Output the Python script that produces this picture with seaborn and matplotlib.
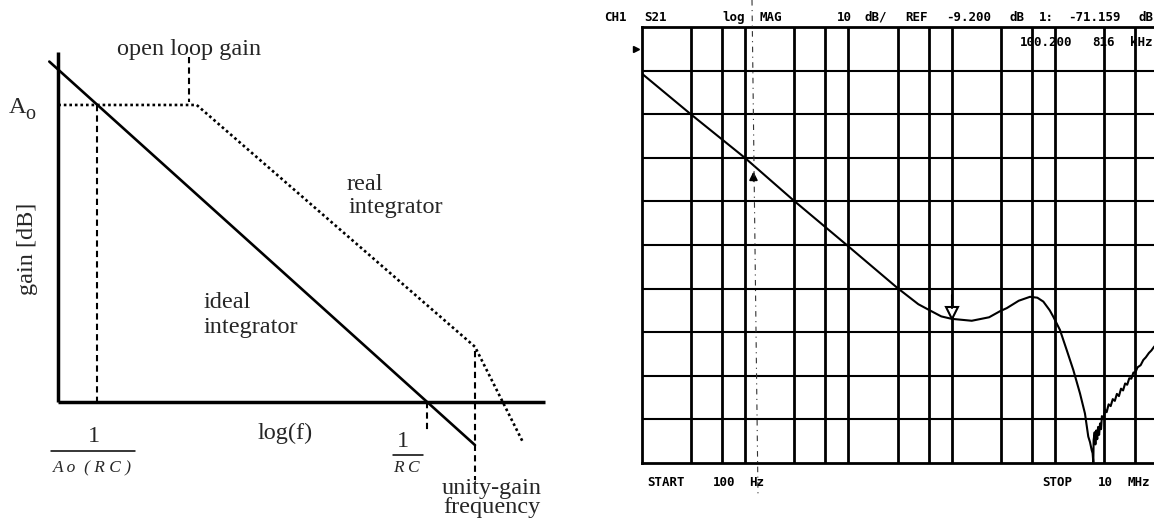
import numpy as np
import matplotlib
matplotlib.use("Agg")
import matplotlib.pyplot as plt
from matplotlib.lines import Line2D
from matplotlib.transforms import blended_transform_factory
import seaborn as sns

# ---------------- left: ideal vs. real integrator (schematic) ----------------
# x = log10(f) in decades relative to 1/RC, y = gain in dB
ideal_logf = [-4.583, 0.5865]
ideal_gain = [91.7, -11.7]
real_logf = [-4.474, -2.793, 0.5865, 1.166]
real_gain = [80.0, 80.0, 14.8, -10.8]
axis_origin_logf = -4.474
axis_end_logf = 1.437
axis_top_gain = 94.3
open_loop_gain_db = 80.0          # A_o
corner_logf = -4.0                 # 1/(A_o RC)
rc_logf = 0.0                      # 1/RC
unity_logf = 0.5865                # unity-gain frequency
leader_logf = -2.884               # leader from "open loop gain" label

# ---------------- right: measured S21, log MAG ----------------
freq_hz = [100, 300, 1000, 3000, 1.0e4, 3.0e4, 4.764e4, 6.026e4, 7.943e4,
           100200.816, 1.567e5, 2.307e5, 2.944e5, 3.420e5, 4.467e5, 5.741e5,
           6.761e5, 7.727e5, 8.913e5, 9.661e5, 1.119e6, 1.300e6, 1.507e6,
           1.750e6, 1.954e6, 2.104e6, 2.188e6, 2.270e6, 2.317e6, 2.355e6,
           2.371e6, 2.427e6, 2.466e6, 2.512e6, 2.570e6, 2.618e6, 2.679e6,
           2.735e6, 2.799e6, 2.851e6, 2.951e6, 3.055e6, 3.170e6, 3.311e6,
           3.467e6, 3.631e6, 3.802e6, 3.981e6, 4.169e6, 4.365e6, 4.571e6,
           4.786e6, 5.012e6, 5.248e6, 5.495e6, 5.754e6, 6.026e6, 6.310e6,
           6.761e6, 7.178e6, 7.586e6, 8.128e6, 8.610e6, 9.099e6, 1.0e7]
s21_db = [-14.8, -24.2, -34.2, -44.1, -54.5, -64.1, -67.8, -69.1, -70.6,
          -71.159, -71.6, -70.8, -69.4, -68.7, -67.0, -66.1,
          -66.3, -67.2, -69.2, -70.7, -73.7, -78.3, -82.9,
          -88.3, -92.9, -98.2, -99.5, -101.3, -102.0, -104.2,
          -99.0, -97.2, -100.0, -96.8, -98.8, -96.0, -97.8,
          -95.2, -96.5, -93.5, -94.2, -92.0, -92.6, -90.8,
          -91.2, -89.6, -90.0, -88.4, -88.9, -87.2, -87.6,
          -86.0, -86.3, -84.8, -84.9, -83.5, -83.4, -82.3,
          -81.8, -80.6, -80.0, -79.0, -78.4, -77.6, -76.6]
ref_level_db = -9.2
db_per_div = 10
top_db = -4.2
bottom_db = -104.2
hgrid_db = [-14.2, -24.2, -34.2, -44.2, -54.2, -64.2, -74.2, -84.2, -94.2]
vgrid_hz = [300, 600, 1e3, 3e3, 6e3, 1e4, 3e4, 6e4, 1e5, 3e5, 6e5, 1e6, 3e6, 6e6]
start_hz, stop_hz = 100, 1e7
marker1_hz, marker1_db = 100200.816, -71.159
marker2_hz = 1208

W, H = 1154, 527
sns.set_theme(style="white")
plt.rcParams["font.family"] = ["Liberation Serif", "DejaVu Serif"]
plt.rcParams["mathtext.fontset"] = "stix"

fig = plt.figure(figsize=(W / 100, H / 100), dpi=100)
fig.patch.set_facecolor("white")

# ======================= left panel =======================
ax1 = fig.add_axes([0, 0, 560 / W, 1])
ax1.set_xlim(-5.1816, 1.6187)
ax1.set_ylim(-33.78, 108.30)
ax1.set_axis_off()

k = "black"
# axes of the sketch
sns.lineplot(x=[axis_origin_logf, axis_origin_logf], y=[axis_top_gain, 0], ax=ax1,
             color=k, lw=2.5, sort=False, estimator=None, solid_capstyle="butt")
sns.lineplot(x=[axis_origin_logf, axis_end_logf], y=[0, 0], ax=ax1,
             color=k, lw=2.5, sort=False, estimator=None, solid_capstyle="butt")
# ideal integrator
sns.lineplot(x=ideal_logf, y=ideal_gain, ax=ax1, color=k, lw=1.9,
             sort=False, estimator=None)
# real integrator (dotted)
sns.lineplot(x=real_logf, y=real_gain, ax=ax1, color=k, lw=1.9,
             sort=False, estimator=None, linestyle=(0, (1, 1.1)))
# dashed guides
dash = (0, (3.0, 2.0))
for xs, ys in [([corner_logf, corner_logf], [open_loop_gain_db, 0]),
               ([rc_logf, rc_logf], [0, -7.6]),
               ([unity_logf, unity_logf], [13.8, -21.2]),
               ([leader_logf, leader_logf], [93.0, 80.9])]:
    sns.lineplot(x=xs, y=ys, ax=ax1, color=k, lw=1.5, sort=False,
                 estimator=None, linestyle=dash)

fs = 17.5
ax1.text(-3.764, 93.6, "open loop gain", fontsize=fs, ha="left", va="baseline")
ax1.text(-5.075, 77.9, "A", fontsize=fs, ha="left", va="baseline")
ax1.text(-4.87, 76.2, "o", fontsize=14.5, ha="left", va="baseline")
ax1.text(-0.978, 57.1, "real", fontsize=fs, ha="left", va="baseline")
ax1.text(-0.944, 50.9, "integrator", fontsize=fs, ha="left", va="baseline")
ax1.text(-2.716, 25.26, "ideal", fontsize=fs, ha="left", va="baseline")
ax1.text(-2.716, 18.5, "integrator", fontsize=fs, ha="left", va="baseline")
ax1.text(-2.049, -10.06, "log(f)", fontsize=fs, ha="left", va="baseline")
ax1.text(-4.851, 41.2, "gain [dB]", fontsize=fs, rotation=90,
         ha="center", va="center")
# 1 / (A_o (RC))
ax1.text(-4.045, -10.95, "1", fontsize=fs, ha="center", va="baseline")
ax1.plot([-4.560, -3.539], [-13.21, -13.21], color=k, lw=1.1)
ax1.text(-4.064, -19.1, "A o  ( R C )", fontsize=12.5, style="italic",
         ha="center", va="baseline")
# 1 / RC
ax1.text(-0.284, -12.13, "1", fontsize=fs, ha="center", va="baseline")
ax1.plot([-0.4056, -0.0413], [-14.37, -14.37], color=k, lw=1.1)
ax1.text(-0.243, -18.87, "R C", fontsize=12.5, style="italic",
         ha="center", va="baseline")
ax1.text(0.182, -24.97, "unity-gain", fontsize=fs, ha="left", va="baseline")
ax1.text(0.198, -30.09, "frequency", fontsize=fs, ha="left", va="baseline")

# ======================= right panel =======================
x0, x1 = 641.7, 1158.2
y0, y1 = 27.3, 462.7
ax2 = fig.add_axes([x0 / W, 1 - y1 / H, (x1 - x0) / W, (y1 - y0) / H])
ax2.set_xscale("log")
ax2.set_xlim(start_hz, stop_hz)
ax2.set_ylim(bottom_db, top_db)
ax2.set_xticks([])
ax2.set_yticks([])
ax2.minorticks_off()
ax2.set_facecolor("white")
for s in ax2.spines.values():
    s.set_color(k)
    s.set_linewidth(2.0)

ax2.vlines(vgrid_hz, bottom_db, top_db, colors=k, lw=2.0)
ax2.hlines(hgrid_db, start_hz, stop_hz, colors=k, lw=1.5)

sns.lineplot(x=freq_hz, y=s21_db, ax=ax2, color=k, lw=1.5,
             sort=False, estimator=None)

# marker 1 (down triangle on the trace)
tri_db = marker1_db + 1.35
ax2.plot([marker1_hz], [tri_db], marker="v", ms=8, mfc="white", mec=k, mew=1.5)
ax2.plot([marker1_hz, marker1_hz], [marker1_db + 2.6, marker1_db + 5.4],
         color=k, lw=1.5)
# marker 2 (up arrow under the trace)
m2_db = float(np.interp(np.log10(marker2_hz), np.log10(freq_hz), s21_db))
ax2.annotate("", xy=(marker2_hz, m2_db - 0.8), xytext=(marker2_hz, m2_db - 4.2),
             arrowprops=dict(arrowstyle="-|>,head_length=0.4,head_width=0.2",
                             color=k, lw=1.3))
# reference level pointer
tr = blended_transform_factory(ax2.transAxes, ax2.transData)
ax2.plot([-0.011], [ref_level_db], marker=">", ms=4.5, color=k,
         transform=tr, clip_on=False)

# instrument annotations
mono = dict(family=["DejaVu Sans Mono", "DejaVu Sans"], weight="bold",
            fontsize=9, color=k, ha="center", va="center")


def px(xp, yp):
    return xp / W, 1 - yp / H


for word, xc in [("CH1", 615), ("S21", 655.5), ("log", 733.3), ("MAG", 770.5),
                 ("10", 844.7), ("dB/", 875.5), ("REF", 916), ("-9.200", 969),
                 ("dB", 1016.5), ("1:", 1046), ("-71.159", 1094.7), ("dB", 1146)]:
    fig.text(*px(xc, 17.5), word, **mono)
for word, xc in [("100.200", 1046), ("816", 1103.3), ("kHz", 1141)]:
    fig.text(*px(xc, 42.7), word, **mono)
for word, xc in [("START", 666), ("100", 724), ("Hz", 756.5),
                 ("STOP", 1057.3), ("10", 1105.3), ("MHz", 1138.3)]:
    fig.text(*px(xc, 482.5), word, **mono)

# dash-dot crease line across the instrument plot
fig.add_artist(Line2D([752 / W, 758 / W], [1.0, 1 - 495 / H], color="#333333",
                      lw=0.8, linestyle=(0, (5, 4, 1, 4))))

fig.savefig("out.png", dpi=100, facecolor="white")
